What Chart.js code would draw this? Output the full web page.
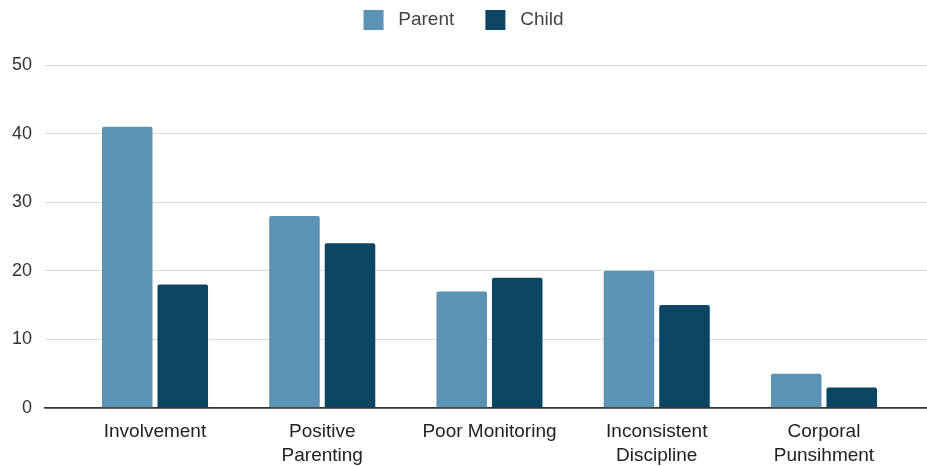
<!DOCTYPE html>
<html>
<head>
<meta charset="utf-8">
<script src="https://cdn.jsdelivr.net/npm/chart.js@4"></script>
<style>
  html, body { margin: 0; padding: 0; background: #ffffff; }
  #wrap { width: 927px; height: 466px; }
</style>
</head>
<body>
<div id="wrap"><canvas id="c" width="927" height="466"></canvas></div>
<script>
const categories = [
  ['Involvement'],
  ['Positive', 'Parenting'],
  ['Poor Monitoring'],
  ['Inconsistent', 'Discipline'],
  ['Corporal', 'Punsihment']
];
const seriesNames = ['Parent', 'Child'];
const parentValues = [41, 28, 17, 20, 5];
const childValues = [18, 24, 19, 15, 3];
const yTicks = [0, 10, 20, 30, 40, 50];

const parentColor = '#5b93b4';
const childColor = '#0a4562';

const legendHeightPlugin = {
  id: 'legendHeight',
  beforeInit(chart) {
    if (!chart.legend) return;
    const orig = chart.legend.fit;
    chart.legend.fit = function () {
      orig.call(this);
      this.height = 65;
    };
  }
};

new Chart(document.getElementById('c'), {
  type: 'bar',
  data: {
    datasets: [
      {
        label: seriesNames[0],
        data: parentValues.map((v, i) => ({ x: i, y: v })),
        backgroundColor: parentColor,
        borderRadius: 2,
        borderSkipped: 'bottom',
        categoryPercentage: 0.664,
        barPercentage: 0.91
      },
      {
        label: seriesNames[1],
        data: childValues.map((v, i) => ({ x: i, y: v })),
        backgroundColor: childColor,
        borderRadius: 2,
        borderSkipped: 'bottom',
        categoryPercentage: 0.664,
        barPercentage: 0.91
      }
    ]
  },
  options: {
    responsive: false,
    animation: false,
    devicePixelRatio: 1,
    layout: { padding: { left: 0, right: 0, top: 0, bottom: 0 } },
    plugins: {
      tooltip: { enabled: false },
      legend: {
        position: 'top',
        align: 'center',
        labels: {
          boxWidth: 20,
          boxHeight: 20,
          padding: 10,
          color: '#444444',
          font: { family: "'Liberation Sans', Arial, sans-serif", size: 19 },
          generateLabels(chart) {
            const items = Chart.defaults.plugins.legend.labels.generateLabels(chart);
            items.forEach((it, i) => {
              it.text = ' ' + it.text + (i < items.length - 1 ? '    ' : '');
              it.lineWidth = 0;
              it.strokeStyle = 'rgba(0,0,0,0)';
            });
            return items;
          }
        }
      }
    },
    scales: {
      x: {
        type: 'linear',
        offset: false,
        min: -0.6577,
        max: 4.616,
        grid: { display: false, drawTicks: false, offset: false },
        border: { display: true, color: '#333333', width: 1.5 },
        ticks: {
          stepSize: 1,
          includeBounds: false,
          autoSkip: false,
          maxRotation: 0,
          minRotation: 0,
          padding: 12,
          color: '#222222',
          font: { family: "'Liberation Sans', Arial, sans-serif", size: 19, lineHeight: '24px' },
          callback: (value) => (Number.isInteger(value) && categories[value]) ? categories[value] : ''
        },
        afterFit(scale) { scale.height = 58; }
      },
      y: {
        type: 'linear',
        min: yTicks[0],
        max: yTicks[yTicks.length - 1],
        grid: {
          drawTicks: false,
          color: (ctx) => (ctx.tick && ctx.tick.value === 0) ? '#333333' : '#dcdcdc',
          lineWidth: (ctx) => (ctx.tick && ctx.tick.value === 0) ? 1.5 : 1
        },
        border: { display: false },
        afterBuildTicks(scale) { scale.ticks = yTicks.map(v => ({ value: v })); },
        ticks: {
          padding: 13,
          color: '#333333',
          font: { family: "'Liberation Sans', Arial, sans-serif", size: 18 }
        },
        afterFit(scale) { scale.width = 45; }
      }
    }
  },
  plugins: [legendHeightPlugin]
});
</script>
</body>
</html>
